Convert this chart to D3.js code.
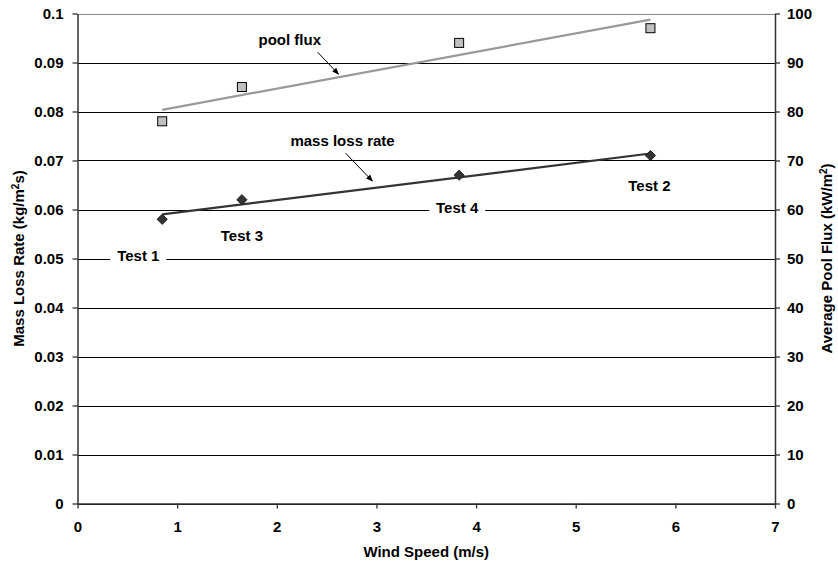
<!DOCTYPE html>
<meta charset="utf-8">
<style>
html, body { margin: 0; padding: 0; background: #fff; }
text { font-family: "Liberation Sans", Arial, sans-serif; font-weight: bold; fill: #000; }
</style>
<body>
<script src="https://d3js.org/d3.v7.min.js"></script>
<script>

var width = 838,
    height = 566;

// wind speed for the four tests (m/s)
var windSpeed = [0.85, 1.65, 3.83, 5.75];
var testNames = ["Test 1", "Test 3", "Test 4", "Test 2"];
// mass loss rate (kg/m2s)
var massLoss = [0.058, 0.062, 0.067, 0.071];
// average pool flux (kW/m2)
var poolFlux = [78, 85, 94, 97];

var xTicks = [0, 1, 2, 3, 4, 5, 6, 7];
var yLeftTicks = [0, 0.01, 0.02, 0.03, 0.04, 0.05, 0.06, 0.07, 0.08, 0.09, 0.1];
var yRightTicks = [0, 10, 20, 30, 40, 50, 60, 70, 80, 90, 100];

// annotation labels, in data units (x in m/s, y on the left axis)
var testLabelX = [0.61, 1.65, 3.81, 5.74];
var testLabelY = [0.0505, 0.0546, 0.0603, 0.0648];

var fs = 15;
var margin = {top: 13.5, right: 63, bottom: 62.5, left: 77.5};

var svg = d3.select("body").append("svg")
    .attr("width", width)
    .attr("height", height);

var x = d3.scaleLinear().domain([0, 7]).range([margin.left, width - margin.right]);
var yL = d3.scaleLinear().domain([0, 0.1]).range([height - margin.bottom, margin.top]);
var yR = d3.scaleLinear().domain([0, 100]).range([height - margin.bottom, margin.top]);

// gridlines
svg.append("g").selectAll("line")
  .data(yLeftTicks)
  .enter().append("line")
  .attr("x1", x(0)).attr("x2", x(7))
  .attr("y1", function(d){ return Math.round(yL(d)) + 0.5; })
  .attr("y2", function(d){ return Math.round(yL(d)) + 0.5; })
  .attr("stroke", function(d){ return d === 0.1 ? "#888" : "#000"; })
  .attr("stroke-width", 1);

function styleAxis(g){
  g.selectAll(".domain").attr("stroke", "#333").attr("stroke-width", 1.5);
  g.selectAll(".tick line").attr("stroke", "#333").attr("stroke-width", 1.3);
  g.selectAll(".tick text").attr("font-size", fs).attr("font-family", "Liberation Sans, Arial, sans-serif").attr("font-weight", "bold").attr("fill", "#000");
}

svg.append("g")
  .attr("transform", "translate(0," + yL(0) + ")")
  .call(d3.axisBottom(x).tickValues(xTicks).tickSize(5).tickSizeOuter(0).tickPadding(13).tickFormat(d3.format("d")))
  .call(styleAxis);

svg.append("g")
  .attr("transform", "translate(" + x(0) + ",0)")
  .call(d3.axisLeft(yL).tickValues(yLeftTicks).tickSize(5).tickSizeOuter(0).tickPadding(9).tickFormat(function(d){ return d === 0 ? "0" : d3.format(".2~f")(d); }))
  .call(styleAxis);

svg.append("g")
  .attr("transform", "translate(" + x(7) + ",0)")
  .call(d3.axisRight(yR).tickValues(yRightTicks).tickSize(5).tickSizeOuter(0).tickPadding(7))
  .call(styleAxis);

// trend lines (least squares)
function fit(xs, ys){
  var mx = d3.mean(xs), my = d3.mean(ys);
  var sxy = d3.sum(xs, function(v, i){ return (v - mx) * (ys[i] - my); });
  var sxx = d3.sum(xs, function(v){ return (v - mx) * (v - mx); });
  var b = sxy / sxx;
  return function(v){ return my + b * (v - mx); };
}
var xEnds = d3.extent(windSpeed);
var massFit = fit(windSpeed, massLoss);
var poolFit = fit(windSpeed, poolFlux);

svg.append("line")
  .attr("x1", x(xEnds[0])).attr("y1", yR(poolFit(xEnds[0])))
  .attr("x2", x(xEnds[1])).attr("y2", yR(poolFit(xEnds[1])))
  .attr("stroke", "#999").attr("stroke-width", 2.2);

svg.append("line")
  .attr("x1", x(xEnds[0])).attr("y1", yL(massFit(xEnds[0])))
  .attr("x2", x(xEnds[1])).attr("y2", yL(massFit(xEnds[1])))
  .attr("stroke", "#333").attr("stroke-width", 2.2);

// markers
svg.append("g").selectAll("rect")
  .data(windSpeed)
  .enter().append("rect")
  .attr("x", function(d){ return x(d) - 4.5; })
  .attr("y", function(d, i){ return yR(poolFlux[i]) - 4.5; })
  .attr("width", 9).attr("height", 9)
  .attr("fill", "#c0c0c0").attr("stroke", "#000").attr("stroke-width", 1);

svg.append("g").selectAll("path")
  .data(windSpeed)
  .enter().append("path")
  .attr("d", d3.symbol().type(d3.symbolDiamond2).size(66))
  .attr("transform", function(d, i){ return "translate(" + x(d) + "," + yL(massLoss[i]) + ")"; })
  .attr("fill", "#333").attr("stroke", "#222").attr("stroke-width", 1);

// test labels with white background
var tl = svg.append("g").selectAll("g")
  .data(testNames)
  .enter().append("g")
  .attr("transform", function(d, i){ return "translate(" + x(testLabelX[i]) + "," + yL(testLabelY[i]) + ")"; });
tl.append("rect")
  .attr("x", -28).attr("y", -9).attr("width", 56).attr("height", 18)
  .attr("fill", "#fff");
tl.append("text")
  .attr("text-anchor", "middle")
  .attr("dy", "0.35em")
  .attr("font-size", fs)
  .text(function(d){ return d; });

// series labels with arrows
svg.append("defs").append("marker")
  .attr("id", "arrow")
  .attr("viewBox", "0 0 10 10")
  .attr("refX", 9).attr("refY", 5)
  .attr("markerWidth", 7).attr("markerHeight", 7)
  .attr("orient", "auto")
  .append("path").attr("d", "M0,1 L10,5 L0,9 Z").attr("fill", "#000");

svg.append("text")
  .attr("x", x(2.13)).attr("y", yR(94.6))
  .attr("text-anchor", "middle").attr("dy", "0.35em")
  .attr("font-size", fs)
  .text("pool flux");
svg.append("line")
  .attr("x1", x(2.41)).attr("y1", yR(92.1))
  .attr("x2", x(2.62)).attr("y2", yR(87.6))
  .attr("stroke", "#000").attr("stroke-width", 1)
  .attr("marker-end", "url(#arrow)");

svg.append("text")
  .attr("x", x(2.66)).attr("y", yL(0.074))
  .attr("text-anchor", "middle").attr("dy", "0.35em")
  .attr("font-size", fs)
  .text("mass loss rate");
svg.append("line")
  .attr("x1", x(2.69)).attr("y1", yL(0.0715))
  .attr("x2", x(2.96)).attr("y2", yL(0.0658))
  .attr("stroke", "#000").attr("stroke-width", 1)
  .attr("marker-end", "url(#arrow)");

// axis titles
svg.append("text")
  .attr("x", (x(0) + x(7)) / 2).attr("y", 557)
  .attr("text-anchor", "middle")
  .attr("font-size", fs)
  .text("Wind Speed (m/s)");

var lt = svg.append("text")
  .attr("transform", "translate(24," + ((yL(0) + yL(0.1)) / 2) + ") rotate(-90)")
  .attr("text-anchor", "middle")
  .attr("font-size", fs);
lt.append("tspan").text("Mass Loss Rate (kg/m");
lt.append("tspan").attr("baseline-shift", "super").attr("font-size", 10).text("2");
lt.append("tspan").text("s)");

var rt = svg.append("text")
  .attr("transform", "translate(832," + ((yL(0) + yL(0.1)) / 2) + ") rotate(-90)")
  .attr("text-anchor", "middle")
  .attr("font-size", fs);
rt.append("tspan").text("Average Pool Flux (kW/m");
rt.append("tspan").attr("baseline-shift", "super").attr("font-size", 10).text("2");
rt.append("tspan").text(")");

</script>
</body>
